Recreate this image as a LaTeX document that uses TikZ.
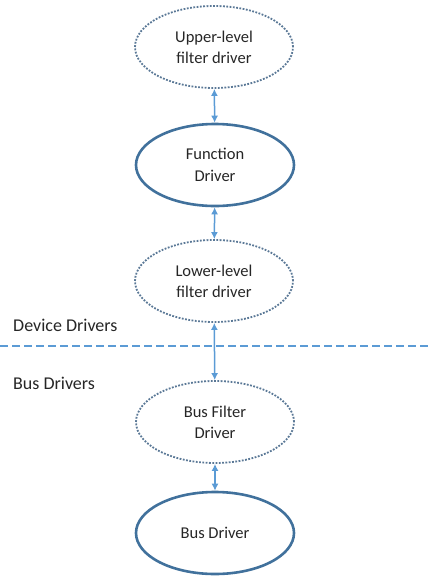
\documentclass[tikz,border=0pt]{standalone}
\usepackage{fontspec}
\setmainfont{Carlito}
\usetikzlibrary{shapes.geometric,arrows.meta}

\definecolor{drvline}{HTML}{41719C}
\definecolor{dotline}{HTML}{5A7896}
\definecolor{linkblue}{HTML}{5B9BD5}
\definecolor{txtgray}{HTML}{262626}

\tikzset{
  filterdrv/.style={ellipse,draw=dotline,line width=1.8pt,
    dash pattern=on 1.8pt off 1.5pt,minimum width=158pt,minimum height=82pt,
    inner sep=0pt,align=center,text=txtgray,font=\fontsize{16.5}{21}\selectfont},
  maindrv/.style={ellipse,draw=drvline,line width=2.6pt,
    minimum width=158pt,minimum height=82pt,
    inner sep=0pt,align=center,text=txtgray,font=\fontsize{16.5}{22}\selectfont},
  link/.style={linkblue,line width=1.5pt,{Latex[length=7pt,width=7pt]}-{Latex[length=7pt,width=7pt]}},
  layer/.style={anchor=west,inner sep=0pt,text=txtgray,font=\fontsize{18}{20}\selectfont}
}

\begin{document}
\begin{tikzpicture}[x=1pt,y=-1pt]
      \useasboundingbox (0,0) rectangle (428,582);

      % driver stack
      \node [filterdrv] (upper) at (214,47) {Upper-level\\filter driver};
      \node [maindrv] (func) at (215,165) {Function\\Driver};
      \node [filterdrv] (lower) at (214,281) {Lower-level\\filter driver};
      \node [filterdrv] (busfilter) at (215,422) {Bus Filter\\Driver};
      \node [maindrv] (busdrv) at (215,533) {Bus Driver};

      % layer split
      \coordinate (splitl) at (0,346);
      \coordinate (splitr) at (428,346);
      \draw [linkblue,line width=1.6pt,dash pattern=on 8pt off 4pt] (splitl) to (splitr);
      \node [layer] (devlabel) at (13,325) {Device Drivers};
      \node [layer] (buslabel) at (13,383) {Bus Drivers};

      % links
      \draw [link] (upper) to (func);
      \draw [link] (func) to (lower);
      \draw [link] (lower) to (busfilter);
      \draw [link] (busfilter) to (busdrv);

    \end{tikzpicture}
\end{document}
